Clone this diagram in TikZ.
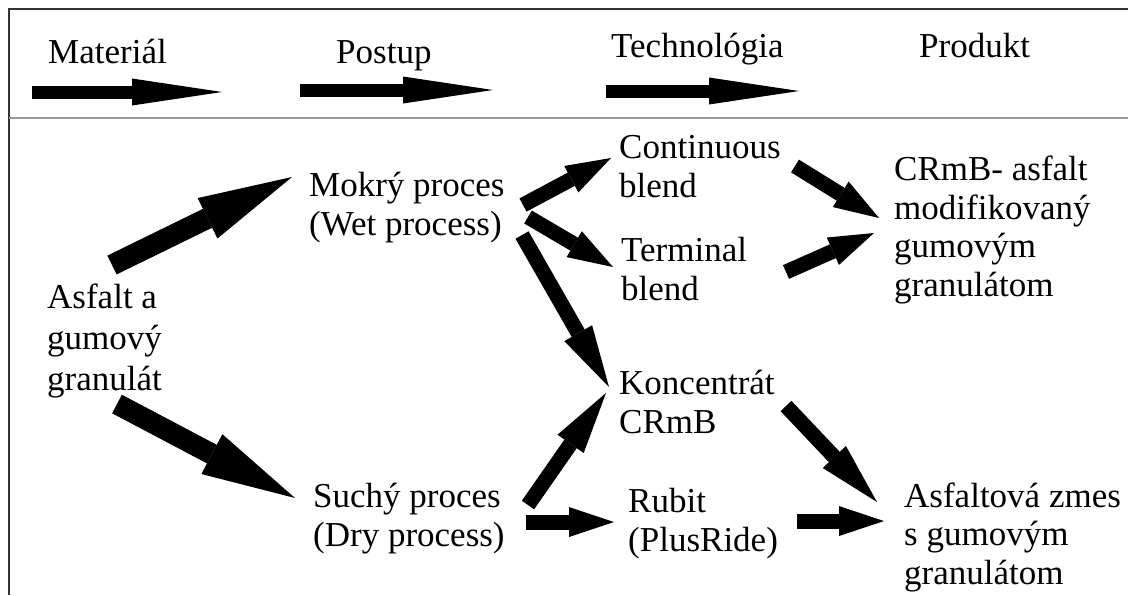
\documentclass[tikz,border=0pt]{standalone}
\usepackage{fontspec}
\setmainfont{Liberation Serif}
\usetikzlibrary{arrows.meta}

\begin{document}
\begin{tikzpicture}[
  x=1pt, y=-1pt,
  font=\fontsize{35}{38.5}\selectfont,
  txt/.style     = {anchor=base west, align=left, inner sep=0pt},
  harr/.style    = {-{Triangle[length=90pt, width=27pt, line width=0pt]}, line width=13pt},
  fat/.style     = {-{Triangle[length=94pt, width=45pt, line width=0pt]}, line width=21pt},
  arr/.style     = {-{Triangle[length=45pt, width=30pt, line width=0pt]}, line width=15pt},
  longarr/.style = {-{Triangle[length=62pt, width=32pt, line width=0pt]}, line width=15pt}
]
\useasboundingbox (0,0) rectangle (1128,595);

% frame
\draw[line width=2pt, black!80] (1128,9) -- (9,9) -- (9,595);
\draw[line width=2pt, black!40] (9,118) -- (1128,118);

% header
\node[txt] (mat)  at (48,63)  {Materiál};
\node[txt] (post) at (336,63) {Postup};
\node[txt] (tech) at (611,57) {Technológia};
\node[txt] (prod) at (919,57) {Produkt};

\draw[harr] ([shift={(-16,29)}]mat.base west)  -- ++(190,0);
\draw[harr] ([shift={(-36,27)}]post.base west) -- ++(193,0);
\draw[harr] ([shift={(-5,34)}]tech.base west)  -- ++(193,0);

% body (anchored at the last line)
\node[txt, font=\fontsize{35}{41}\selectfont] (asf) at (47,390) {Asfalt a\\gumový\\granulát};
\node[txt] (wet)  at (309,235) {Mokrý proces\\(Wet process)};
\node[txt] (dry)  at (313,546) {Suchý proces\\(Dry process)};
\node[txt] (cont) at (619,197) {Continuous\\blend};
\node[txt] (term) at (621,300) {Terminal\\blend};
\node[txt] (konc) at (619,433) {Koncentrát\\CRmB};
\node[txt] (rub)  at (628,551) {Rubit\\(PlusRide)};
\node[txt] (crmb) at (894,296) {CRmB- asfalt\\modifikovaný\\gumovým\\granulátom};
\node[txt] (zmes) at (904,584) {Asfaltová zmes\\s gumovým\\granulátom};

\draw[fat]     ([shift={(65,-125)}]asf.base west) -- ([shift={(-17,-58)}]wet.base west);
\draw[fat]     ([shift={(70,14)}]asf.base west)   -- ([shift={(-18,-48)}]dry.base west);
\draw[arr]     ([shift={(214,-30)}]wet.base west) -- ([shift={(-8,-39)}]cont.base west);
\draw[arr]     ([shift={(219,-18)}]wet.base west) -- ([shift={(-8,-33)}]term.base west);
\draw[longarr] ([shift={(213,0)}]wet.base west)   -- ([shift={(-10,-46)}]konc.base west);
\draw[longarr] ([shift={(215,-41)}]dry.base west) -- ([shift={(-13,-40)}]konc.base west);
\draw[arr]     ([shift={(213,-24)}]dry.base west) -- ([shift={(-14,-29)}]rub.base west);
\draw[arr]     ([shift={(176,-31)}]cont.base west) -- ([shift={(-15,-78)}]crmb.base west);
\draw[arr]     ([shift={(165,-28)}]term.base west) -- ([shift={(-20,-63)}]crmb.base west);
\draw[longarr] ([shift={(167,-27)}]konc.base west) -- ([shift={(-27,-82)}]zmes.base west);
\draw[arr]     ([shift={(169,-30)}]rub.base west)  -- ([shift={(-20,-63)}]zmes.base west);
\end{tikzpicture}
\end{document}
